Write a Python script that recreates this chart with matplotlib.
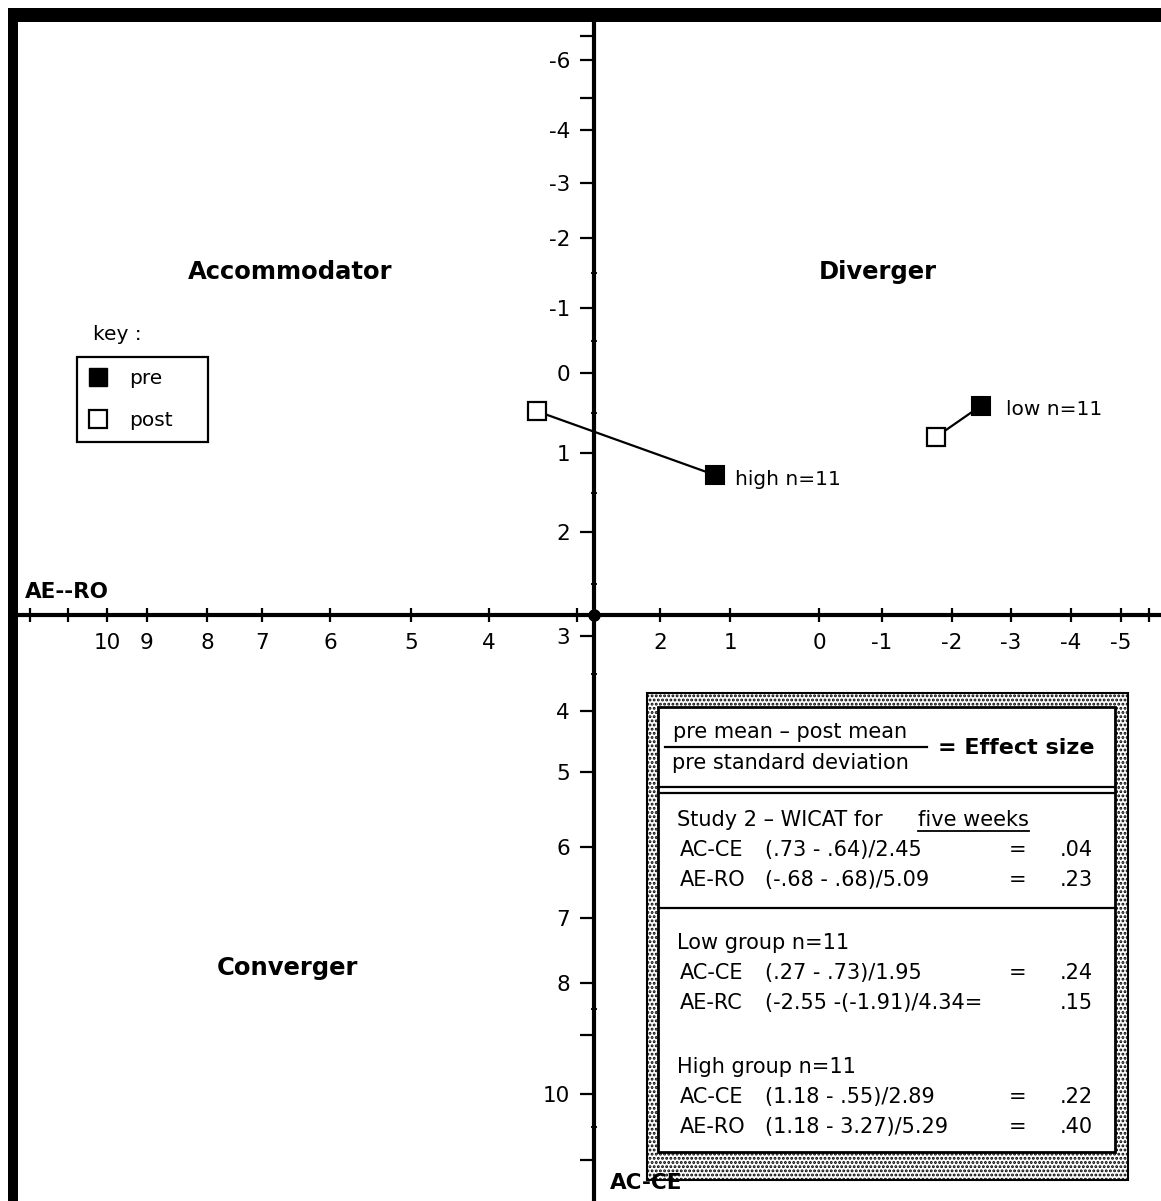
import numpy as np
import matplotlib
matplotlib.use("Agg")
import matplotlib.pyplot as plt
from matplotlib.lines import Line2D
from matplotlib.patches import Rectangle
from matplotlib.ticker import FixedLocator, FixedFormatter

# ---------------- data ----------------
groups = ["high n=11", "low n=11"]
pre_ae_ro = [1.21, -2.49]
pre_ac_ce = [1.28, 0.41]
post_ae_ro = [3.45, -1.77]
post_ac_ce = [0.48, 0.80]

# hand-drawn, non-uniform axes: tick values and labels
x_tick_values = [12, 11, 10, 9, 8, 7, 6, 5, 4, 3, 2, 1, 0, -1, -2, -3, -4, -5, -6]
x_tick_labels = ["", "", "10", "9", "8", "7", "6", "5", "4", "", "2", "1", "0",
                 "-1", "-2", "-3", "-4", "-5", ""]
y_tick_values = [-7, -6, -5, -4, -3, -2, -1, 0, 1, 2, 3, 4, 5, 6, 7, 8, 9, 10, 11]
y_tick_labels = ["", "-6", "", "-4", "-3", "-2", "-1", "0", "1", "2", "3", "4", "5",
                 "6", "7", "8", "", "10", ""]
y_minor_values = [-1.5, -0.5, 0.5, 1.5, 2.5, 3.5, 8.5, 10.5]

# calibration of the hand-drawn scales (pixel position of each tick)
x_scale_pix = [30, 68, 107, 147, 207, 262, 330, 411, 489, 577, 660, 730, 819,
               882, 952, 1011, 1071, 1121, 1149]
y_scale_pix = [36, 60, 98, 130, 183, 238, 308, 373, 453, 532, 636, 711, 772,
               847, 918, 983, 1035, 1094, 1160]
axis_cross_ae_ro = 2.8
axis_cross_ac_ce = 2.8

# text of the effect-size table
study_rows = [("AC-CE", "(.73 - .64)/2.45", "=", ".04"),
              ("AE-RO", "(-.68 - .68)/5.09", "=", ".23")]
low_rows = [("AC-CE", "(.27 - .73)/1.95", "=", ".24"),
            ("AE-RC", "(-2.55 -(-1.91)/4.34=", "", ".15")]
high_rows = [("AC-CE", "(1.18 - .55)/2.89", "=", ".22"),
             ("AE-RO", "(1.18 - 3.27)/5.29", "=", ".40")]

plt.rcParams["font.family"] = ["DejaVu Sans"]
plt.rcParams["hatch.linewidth"] = 1.4


def piecewise(xp, fp):
    xp = np.asarray(xp, float)
    fp = np.asarray(fp, float)
    order = np.argsort(xp)
    xp, fp = xp[order], fp[order]
    s0 = (fp[1] - fp[0]) / (xp[1] - xp[0])
    s1 = (fp[-1] - fp[-2]) / (xp[-1] - xp[-2])

    def f(v):
        v = np.asarray(v, float)
        out = np.interp(v, xp, fp)
        out = np.where(v < xp[0], fp[0] + (v - xp[0]) * s0, out)
        out = np.where(v > xp[-1], fp[-1] + (v - xp[-1]) * s1, out)
        return out
    return f


W, H = 1161, 1201
fig = plt.figure(figsize=(W / 100, H / 100), dpi=100)
fig.patch.set_facecolor("white")

ax = fig.add_axes([0, 0, 1, 1])
ax.set_facecolor("white")
_px = piecewise(x_tick_values, x_scale_pix)          # value -> pixel (decreasing)
_px_inv = piecewise(x_scale_pix, x_tick_values)      # pixel -> value


def fx(v):
    return -_px(v)          # increasing in value


def fx_inv(s):
    return _px_inv(-np.asarray(s, float))


fy, fy_inv = piecewise(y_tick_values, y_scale_pix), piecewise(y_scale_pix, y_tick_values)
ax.set_xscale("function", functions=(fx, fx_inv))
ax.set_yscale("function", functions=(fy, fy_inv))
ax.set_xlim(float(_px_inv(0)), float(_px_inv(W)))
ax.set_ylim(float(fy_inv(H)), float(fy_inv(0)))

for s in ("top", "right"):
    ax.spines[s].set_visible(False)
ax.spines["left"].set_position(("data", axis_cross_ae_ro))
ax.spines["bottom"].set_position(("data", axis_cross_ac_ce))
ax.spines["bottom"].set_bounds(float(_px_inv(16)), float(_px_inv(W)))
ax.spines["left"].set_bounds(float(fy_inv(H)), float(fy_inv(20)))
for s in ("left", "bottom"):
    ax.spines[s].set_linewidth(3.0)
    ax.spines[s].set_color("black")

ax.xaxis.set_major_locator(FixedLocator(x_tick_values))
ax.xaxis.set_major_formatter(FixedFormatter(x_tick_labels))
ax.xaxis.set_minor_locator(FixedLocator([]))
ax.yaxis.set_major_locator(FixedLocator(y_tick_values))
ax.yaxis.set_major_formatter(FixedFormatter(y_tick_labels))
ax.yaxis.set_minor_locator(FixedLocator(y_minor_values))
ax.tick_params(axis="x", which="major", direction="inout", length=10, width=1.6,
               pad=8, labelsize=15.5, colors="black")
ax.tick_params(axis="y", which="major", direction="out", length=10, width=1.6,
               pad=7, labelsize=15.5, colors="black")
ax.tick_params(axis="y", which="minor", direction="inout", length=5, width=1.3)

# origin dot
ax.plot([axis_cross_ae_ro], [axis_cross_ac_ce], "o", ms=8, color="black",
        clip_on=False, zorder=5)

# data: pre (filled) -> post (open) per group
for i, name in enumerate(groups):
    ax.plot([pre_ae_ro[i], post_ae_ro[i]], [pre_ac_ce[i], post_ac_ce[i]],
            color="black", lw=1.6, zorder=3)
    ax.plot([pre_ae_ro[i]], [pre_ac_ce[i]], ls="none", marker="s", ms=13,
            mfc="black", mec="black", mew=1.5, zorder=4)
    ax.plot([post_ae_ro[i]], [post_ac_ce[i]], ls="none", marker="s", ms=13,
            mfc="white", mec="black", mew=1.6, zorder=4)
    ax.annotate(name, xy=(pre_ae_ro[i], pre_ac_ce[i]), xytext=(14 if i == 0 else 18, -3),
                textcoords="offset points", ha="left", va="center", fontsize=14.5)

# legend ("key")
handles = [Line2D([], [], ls="none", marker="s", ms=13, mfc="black", mec="black"),
           Line2D([], [], ls="none", marker="s", ms=13, mfc="white", mec="black", mew=1.6)]
leg = ax.legend(handles, ["pre", "post"], loc="upper left",
                bbox_to_anchor=(77 / W, 1 - 452 / H, 131 / W, 95 / H),
                bbox_transform=fig.transFigure, mode="expand", fancybox=False,
                edgecolor="black", framealpha=1, fontsize=14.5, borderpad=0.62,
                handlelength=0.8, handletextpad=1.15, labelspacing=1.1,
                borderaxespad=0)
leg.get_frame().set_linewidth(1.6)

# ---------------- overlay in pixel coordinates for annotations ----------------
ov = fig.add_axes([0, 0, 1, 1], facecolor="none")
ov.set_xlim(0, W)
ov.set_ylim(H, 0)
ov.axis("off")

# frame of the scan
ov.add_patch(Rectangle((8, 8), W - 8, 14, color="black", lw=0))
ov.add_patch(Rectangle((8, 8), 10, H - 8, color="black", lw=0))

ov.text(93, 335, "key :", fontsize=14.5, ha="left", va="center")

qkw = dict(fontsize=17.5, fontweight="bold", ha="center", va="center")
ov.text(290, 272, "Accommodator", **qkw)
ov.text(878, 272, "Diverger", **qkw)
ov.text(287, 968, "Converger", **qkw)
ov.text(25, 592, "AE--RO", fontsize=15.5, fontweight="bold", ha="left", va="center")
ov.text(610, 1183, "AC-CE", fontsize=15.5, fontweight="bold", ha="left", va="center",
        zorder=1)

# effect-size box
ov.add_patch(Rectangle((647, 693), 1128 - 647, 1180 - 693, facecolor="none",
                       edgecolor="black", hatch="....", lw=1.5, zorder=2))
ov.add_patch(Rectangle((658, 707), 1115 - 658, 1152 - 707, facecolor="white",
                       edgecolor="black", lw=2.0, zorder=3))
for yy in (787, 793, 908):
    ov.plot([658, 1115], [yy, yy], color="black", lw=1.6, zorder=4)

tkw = dict(fontsize=15, ha="left", va="center", zorder=5)
ov.text(673, 732, "pre mean – post mean", **tkw)
ov.plot([665, 927], [747, 747], color="black", lw=1.6, zorder=5)
ov.text(672, 763, "pre standard deviation", **tkw)
ov.text(938, 748, "= Effect size", fontsize=16, fontweight="bold", ha="left",
        va="center", zorder=5)

ov.text(677, 820, "Study 2 – WICAT for", **tkw)
fw = ov.text(918, 820, "five weeks", **tkw)
fig.canvas.draw()
bb = fw.get_window_extent().transformed(ov.transData.inverted())
ov.plot([918, bb.x1], [831, 831], color="black", lw=1.3, zorder=5)


def table_rows(rows, y0):
    for k, (lab, formula, eq, val) in enumerate(rows):
        y = y0 + 30 * k
        ov.text(680, y, lab, **tkw)
        ov.text(765, y, formula, **tkw)
        if eq:
            ov.text(1018, y, eq, fontsize=15, ha="center", va="center", zorder=5)
        ov.text(1093, y, val, fontsize=15, ha="right", va="center", zorder=5)


table_rows(study_rows, 850)
ov.text(677, 943, "Low group n=11", **tkw)
table_rows(low_rows, 973)
ov.text(677, 1067, "High group n=11", **tkw)
table_rows(high_rows, 1097)

fig.savefig("out.png", dpi=100, facecolor="white")
